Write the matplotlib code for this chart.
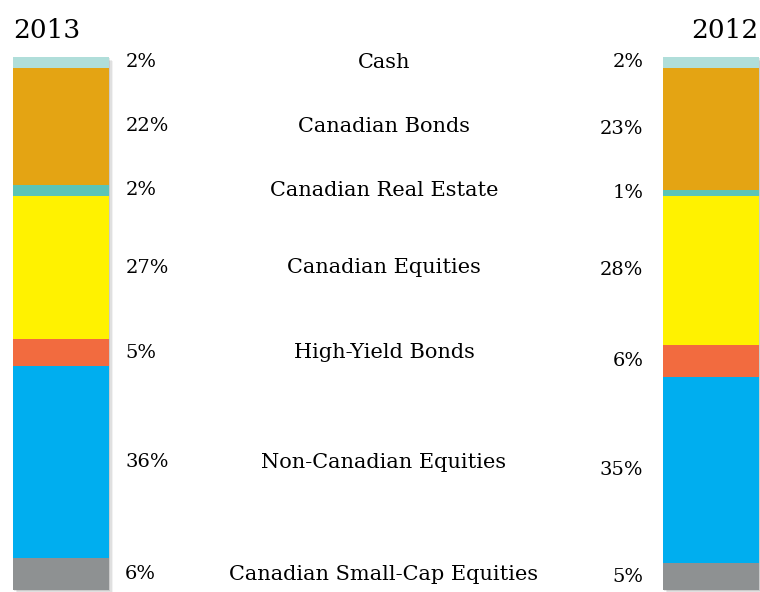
import matplotlib
matplotlib.use("Agg")
import matplotlib.pyplot as plt
import matplotlib.patheffects as pe
import numpy as np

years = ["2013", "2012"]
categories = ["Cash", "Canadian Bonds", "Canadian Real Estate", "Canadian Equities",
              "High-Yield Bonds", "Non-Canadian Equities", "Canadian Small-Cap Equities"]
vals_2013 = [2, 22, 2, 27, 5, 36, 6]
vals_2012 = [2, 23, 1, 28, 6, 35, 5]
colors = ["#B0DEDA", "#E4A413", "#5BC4B6", "#FFF200", "#F26B3F", "#00AEEF", "#8E9192"]

fig = plt.figure(figsize=(7.6, 5.92), dpi=100)
ax = fig.add_axes([13 / 760, 2 / 592, 746 / 760, 533 / 592])
w = 96 / (746 - 96)
ax.set_xlim(-w / 2, 1 + w / 2)
ax.set_ylim(100, 0)
ax.axis("off")

font = "DejaVu Serif"
for xi, vals in enumerate([vals_2013, vals_2012]):
    vals = np.array(vals, dtype=float)
    bottoms = np.concatenate([[0], np.cumsum(vals)[:-1]])
    # soft shadow behind the bar
    for k, a in [(3, 0.05), (2, 0.07), (1, 0.09)]:
        ax.bar(xi, 100, width=w, bottom=0, color="black", alpha=0, zorder=1,
               path_effects=[pe.SimplePatchShadow(offset=(k, -k), shadow_rgbFace="black", alpha=a)],
               clip_on=False)
    ax.bar(xi, vals, width=w, bottom=bottoms, color=colors, zorder=2, linewidth=0)

p13 = np.array(vals_2013)
c13 = np.cumsum(p13) - p13 / 2
p12 = np.array(vals_2012)
c12 = np.cumsum(p12) - p12 / 2

for i, cat in enumerate(categories):
    ax.text(w / 2 + 0.025, c13[i], f"{vals_2013[i]}%", ha="left", va="center",
            fontsize=14, family=font)
    ax.text(1 - w / 2 - 0.03, c12[i], f"{vals_2012[i]}%", ha="right", va="center",
            fontsize=14, family=font)
    ax.text(0.497, c13[i], cat, ha="center", va="center", fontsize=15, family=font)

fig.text(13 / 760, 1 - 31 / 592, years[0], ha="left", va="center", fontsize=19, family=font)
fig.text(758 / 760, 1 - 31 / 592, years[1], ha="right", va="center", fontsize=19, family=font)

fig.savefig("out.png", dpi=100)
